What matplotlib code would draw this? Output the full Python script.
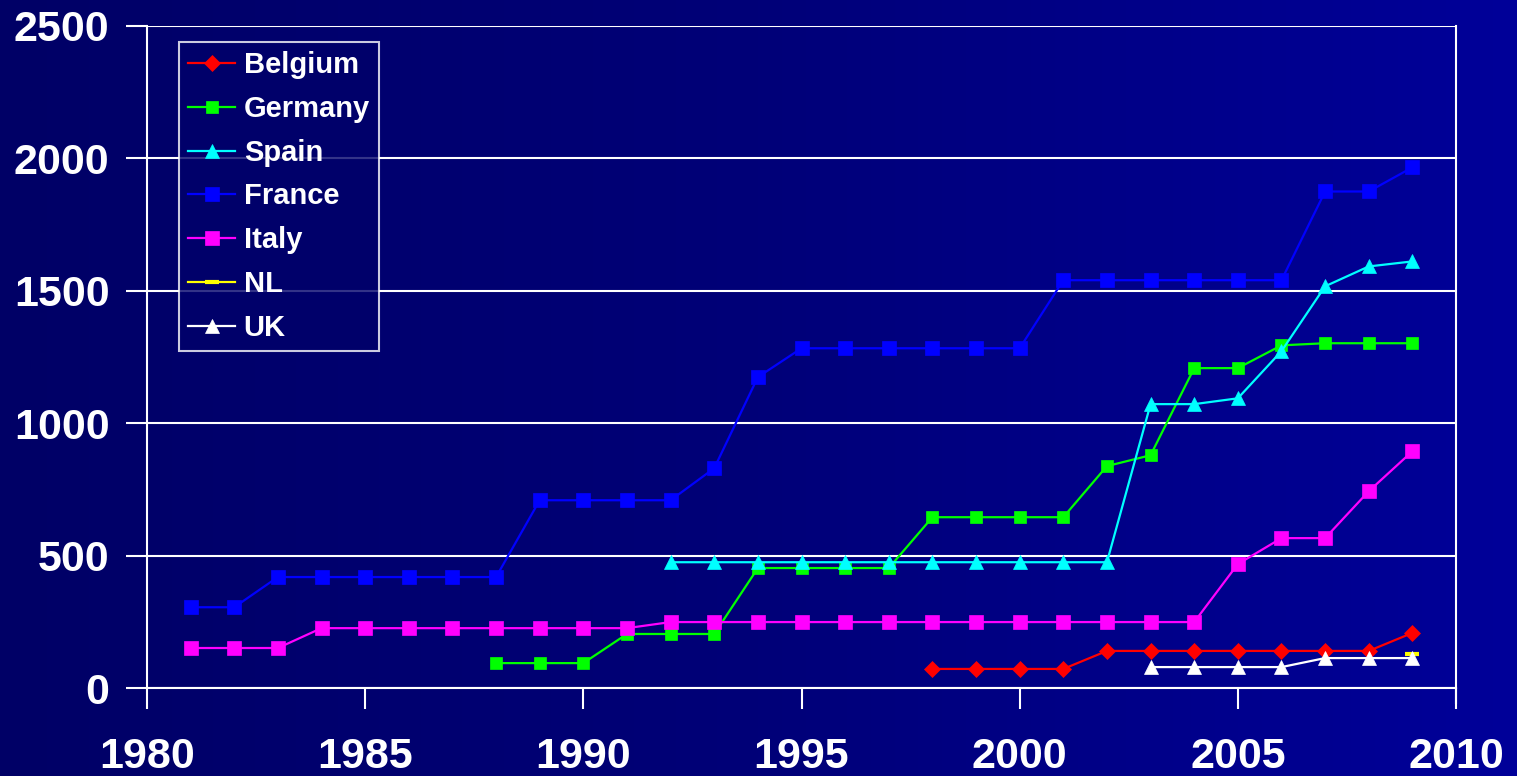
import numpy as np
import matplotlib
matplotlib.use('Agg')
import matplotlib.pyplot as plt
from matplotlib.colors import LinearSegmentedColormap

# installed capacity per country, by year
belgium_years = [1998, 1999, 2000, 2001, 2002, 2003, 2004, 2005, 2006, 2007, 2008, 2009]
belgium = [72, 72, 72, 72, 140, 140, 140, 140, 140, 140, 140, 208]

germany_years = list(range(1988, 2010))
germany = [94, 94, 94, 204, 204, 204, 453, 453, 453, 453, 645, 645, 645, 645,
           838, 879, 1208, 1208, 1294, 1302, 1302, 1302]

spain_years = list(range(1992, 2010))
spain = [475, 475, 475, 475, 475, 475, 475, 475, 475, 475, 475,
         1072, 1072, 1094, 1272, 1517, 1592, 1611]

france_years = list(range(1981, 2010))
france = [305, 305, 419, 419, 419, 419, 419, 419, 709, 709, 709, 709, 830, 1174,
          1283, 1283, 1283, 1283, 1283, 1283, 1540, 1540, 1540, 1540, 1540, 1540,
          1875, 1875, 1966]

italy_years = list(range(1981, 2010))
italy = [151, 151, 151, 226, 226, 226, 226, 226, 226, 226, 226, 249, 249, 249,
         249, 249, 249, 249, 249, 249, 249, 249, 249, 249, 468, 566, 566, 743, 894]

nl_years = [2009]
nl = [127]

uk_years = [2003, 2004, 2005, 2006, 2007, 2008, 2009]
uk = [79, 79, 79, 79, 113, 113, 113]

x_ticks = [1980, 1985, 1990, 1995, 2000, 2005, 2010]
y_ticks = [0, 500, 1000, 1500, 2000, 2500]

plt.rcParams['font.family'] = ['Liberation Sans', 'DejaVu Sans']
plt.rcParams['font.weight'] = 'bold'

fig = plt.figure(figsize=(15.17, 7.76), dpi=100)

# horizontal navy gradient behind everything
bg = fig.add_axes([0, 0, 1, 1], zorder=-10)
cmap = LinearSegmentedColormap.from_list('navy', ['#000066', '#000078', '#000099'])
bg.imshow(np.linspace(0, 1, 256).reshape(1, -1), aspect='auto', cmap=cmap,
          extent=[0, 1, 0, 1])
bg.axis('off')

ax = fig.add_axes([147 / 1517, 1 - 688 / 776, 1309 / 1517, 662 / 776])
ax.patch.set_alpha(0)

series = [
    ('Belgium', belgium_years, belgium, '#ff0000', 'D', 8),
    ('Germany', germany_years, germany, '#00ff00', 's', 9),
    ('Spain', spain_years, spain, '#00ffff', '^', 10),
    ('France', france_years, france, '#0000ff', 's', 9.5),
    ('Italy', italy_years, italy, '#ff00ff', 's', 9.5),
    ('NL', nl_years, nl, '#ffff00', '_', 10),
    ('UK', uk_years, uk, '#ffffff', '^', 10),
]
for name, xs, ys, col, mk, ms in series:
    ax.plot(xs, ys, color=col, lw=1.6, marker=mk, markersize=ms,
            markeredgewidth=3 if mk == '_' else 0.5, markeredgecolor=col,
            label=name, zorder=3)

ax.set_xlim(1980, 2010)
ax.set_ylim(0, 2500)
ax.set_xticks(x_ticks)
ax.set_yticks(y_ticks)
ax.yaxis.grid(True, color='white', lw=1.5)
ax.set_axisbelow(True)

for side in ['left', 'bottom', 'right']:
    ax.spines[side].set_color('white')
    ax.spines[side].set_linewidth(1.5)
ax.spines['top'].set_visible(False)

ax.tick_params(axis='both', colors='white', width=1.5, length=15, direction='out',
               labelsize=31)
ax.tick_params(axis='x', pad=20)
ax.tick_params(axis='y', pad=12)
for lbl in ax.get_xticklabels() + ax.get_yticklabels():
    lbl.set_fontweight('bold')

# right edge continues down like the other x ticks
ax.plot([2010, 2010], [0, -15 / 662 * 2500], color='white', lw=1.5,
        clip_on=False)

leg = ax.legend(loc='upper left', bbox_to_anchor=(0.0244, 0.976), numpoints=1,
                fontsize=21, frameon=True, fancybox=False, labelcolor='white',
                handlelength=1.6, handletextpad=0.3, labelspacing=0.54,
                borderpad=0.32, borderaxespad=0)
leg.get_frame().set_facecolor('#00006a')
leg.get_frame().set_edgecolor('white')
leg.get_frame().set_linewidth(1.5)
for t in leg.get_texts():
    t.set_fontweight('bold')

fig.savefig('out.png', dpi=100)
